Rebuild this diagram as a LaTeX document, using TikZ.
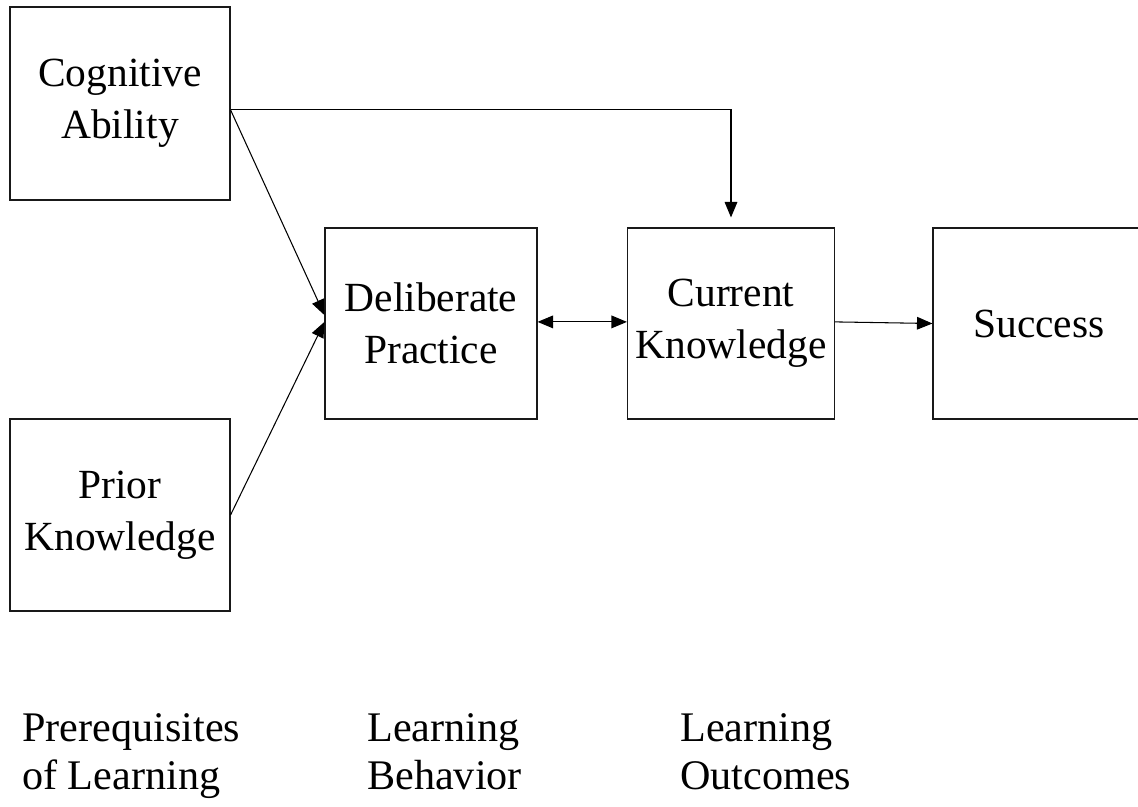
\documentclass[tikz,border=0pt]{standalone}
\usepackage{fontspec}
\setmainfont{Liberation Serif}
\usepackage{tikz}
\usetikzlibrary{arrows.meta, positioning}
\tikzstyle{block} = [rectangle, minimum width=5.5cm, minimum height=4.8cm, inner sep=0pt, text centered, align=center, draw=black!90, line width=0.8pt, font=\fontsize{29.5}{37}\selectfont]
\tikzstyle{stage} = [inner sep=0pt, align=left, anchor=north west, font=\fontsize{30}{34.5}\selectfont]
\tikzstyle{arrow} = [line width=0.75pt, draw=black, ->, >={Triangle[length=11pt, width=9pt]}]

\begin{document}
\begin{tikzpicture}[node distance=7.5cm]

\clip (0,0) rectangle (28.45,-20.175);

\node (cog) [block, minimum height=4.825cm] at (3,-2.5875) {Cognitive\\Ability};

\node (prior) [block, below of=cog, yshift=-2.7875cm] {Prior\\Knowledge};

\node (delib) [block, minimum width=5.3cm, minimum height=4.775cm, right of=cog, xshift=0.275cm, yshift=-5.5cm] {Deliberate\\Practice};

\node (curr) [block, minimum width=5.175cm, minimum height=4.775cm, right of=delib] {Current\\Knowledge};

\node (succ) [block, minimum width=5.3cm, minimum height=4.775cm, right of=curr, xshift=0.2cm] {Success};

\node (prereq) [stage] at (0.55,-17.825) {Prerequisites\\of Learning};

\node (behav) [stage] at (9.175,-17.825) {Learning\\Behavior};

\node (outc) [stage] at (17.0,-17.825) {Learning\\Outcomes};

\draw[arrow, shorten >=0.25cm] ([yshift=-0.16cm]cog.east) -| (curr.north);

\draw[arrow] ([yshift=-0.16cm]cog.east) -- ([yshift=0.21cm]delib.west);

\draw[arrow] (prior.east) -- ([yshift=0.04cm]delib.west);

\draw[arrow, <->] ([yshift=0.04cm]delib.east) -- ([yshift=0.04cm]curr.west);

\draw[arrow] ([yshift=0.04cm]curr.east) -- (succ.west);

\end{tikzpicture}
\end{document}
